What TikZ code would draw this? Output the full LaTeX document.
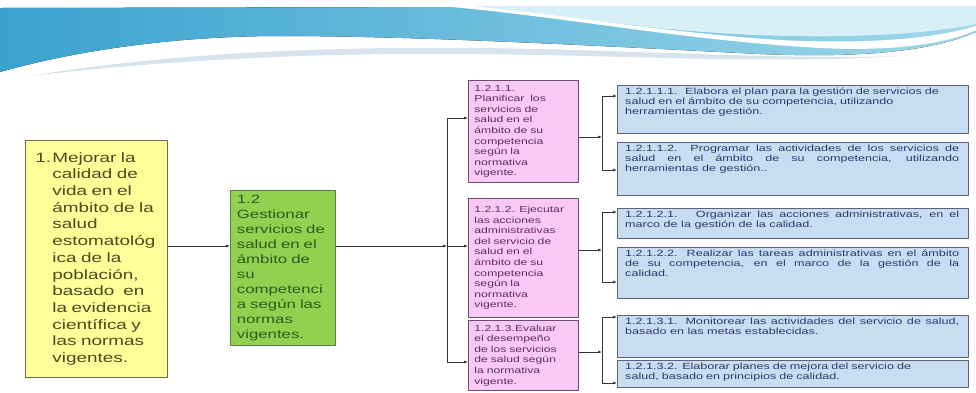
\documentclass[tikz,border=0pt]{standalone}
\usepackage{fontspec}
\setmainfont{Liberation Sans}[FakeStretch=1.4]
\usetikzlibrary{arrows.meta,calc}

\definecolor{yelfill}{HTML}{FFFF99}
\definecolor{yelline}{HTML}{6B6B4A}
\definecolor{yeltext}{HTML}{4A4A1E}
\definecolor{grnfill}{HTML}{92D050}
\definecolor{grnline}{HTML}{5A7A4A}
\definecolor{grntext}{HTML}{2E5A1E}
\definecolor{pnkfill}{HTML}{F9C9F5}
\definecolor{pnkline}{HTML}{6E4A6E}
\definecolor{pnktext}{HTML}{5A2A66}
\definecolor{blufill}{HTML}{C9DDF2}
\definecolor{bluline}{HTML}{5A6478}
\definecolor{blutext}{HTML}{2A3870}
\definecolor{bandL}{HTML}{3AA2CF}
\definecolor{bandR}{HTML}{9ED8EA}
\definecolor{wisp}{HTML}{D6E3EC}

\newcommand{\hang}{\hspace*{17pt}}

\begin{document}
\begin{tikzpicture}
    [x=1pt,y=-1pt,line join=bevel,
     ybox/.style={draw=yelline,fill=yelfill,line width=0.8pt,anchor=north west,
       text=yeltext,text width=122pt,inner xsep=10pt,align=left,
       font=\fontsize{13.5}{16.7}\selectfont},
     gbox/.style={draw=grnline,fill=grnfill,line width=0.8pt,anchor=north west,
       text=grntext,text width=92pt,inner xsep=6pt,align=left,
       font=\fontsize{12}{15}\selectfont},
     pbox/.style={draw=pnkline,fill=pnkfill,line width=0.8pt,anchor=north west,
       text=pnktext,text width=98pt,minimum width=110pt,inner xsep=6pt,align=left,
       font=\fontsize{8.7}{10.6}\selectfont},
     bbox/.style={draw=bluline,fill=blufill,line width=0.9pt,anchor=north west,
       minimum width=351pt},
     btext/.style={anchor=north west,text=blutext,text width=334pt,inner xsep=8pt,
       inner ysep=3pt,align=justify,font=\fontsize{9}{10}\selectfont},
     arr/.style={draw=black!80,line width=0.7pt,-{Latex[length=4pt,width=3pt]}}]

    \useasboundingbox (0,0) rectangle (976,392);

    % banner
    \fill[left color=bandL,right color=bandR] (0,8) -- (976,6) -- (976,32)
      .. controls (930,52) and (860,58) .. (760,54)
      .. controls (600,46) and (420,36) .. (280,36)
      .. controls (170,36) and (70,52) .. (0,72) -- cycle;
    \fill[white!60!bandR] (470,6) -- (976,6) -- (976,24)
      .. controls (900,40) and (760,40) .. (640,26)
      .. controls (570,18) and (510,10) .. (470,6) -- cycle;
    \fill[white] (440,6) .. controls (560,16) and (680,40) .. (820,48)
      .. controls (900,52) and (950,42) .. (976,30) -- (976,26)
      .. controls (930,40) and (860,44) .. (780,40)
      .. controls (660,32) and (560,14) .. (470,6) -- cycle;
    \fill[wisp] (30,76) .. controls (150,56) and (300,46) .. (480,48)
      .. controls (640,50) and (780,60) .. (900,56)
      .. controls (780,64) and (640,56) .. (480,54)
      .. controls (300,52) and (150,62) .. (30,76) -- cycle;

    % level 1 and 2
    \node[ybox,minimum width=142pt,minimum height=237pt] (obj) at (25,140)
      {\makebox[17pt][l]{1.}Mejorar la\\\hang calidad de\\\hang vida en el\\
       \hang ámbito de la\\\hang salud\\\hang estomatológ\\\hang ica de la\\
       \hang población,\\\hang basado~ en\\\hang la evidencia\\
       \hang científica y\\\hang las normas\\\hang vigentes.};
    \node[gbox,minimum width=105pt,minimum height=155pt] (g12) at (230,190)
      {1.2\\Gestionar\\servicios de\\salud en el\\ámbito de\\su\\competenci\\a según las\\
       normas\\vigentes.};

    % level 3
    \node[pbox,minimum height=102pt] (p1) at (468,80)
      {1.2.1.1.\\Planificar~ los\\servicios de\\salud en el\\ámbito de su\\competencia\\
       según la\\normativa\\vigente.};
    \node[pbox,minimum height=119pt] (p2) at (468,198)
      {1.2.1.2. Ejecutar\\las acciones\\administrativas\\del servicio de\\salud en el\\
       ámbito de su\\competencia\\según la\\normativa\\vigente.};
    \node[pbox,minimum height=70pt] (p3) at (468,320)
      {1.2.1.3.Evaluar\\el desempeño\\de los servicios\\de salud según\\la normativa\\vigente.};

    % level 4
    \node[bbox,minimum height=48pt] (b11) at (617,85) {};
    \node[bbox,minimum height=53pt] (b12) at (617,142) {};
    \node[bbox,minimum height=30pt] (b21) at (617,208) {};
    \node[bbox,minimum height=51pt] (b22) at (617,247) {};
    \node[bbox,minimum height=42pt] (b31) at (617,315) {};
    \node[bbox,minimum height=27pt] (b32) at (617,360) {};

    \node[btext,align=left] (t11) at (b11.north west)
      {1.2.1.1.1.~ Elabora el plan para la gestión de servicios de\\
       salud en el ámbito de su competencia, utilizando\\herramientas de gestión.};
    \node[btext] (t12) at (b12.north west)
      {1.2.1.1.2. Programar las actividades de los servicios de\linebreak
       salud en el ámbito de su competencia, utilizando\linebreak herramientas de gestión..};
    \node[btext] (t21) at (b21.north west)
      {1.2.1.2.1.~ Organizar las acciones administrativas, en el\linebreak
       marco de la gestión de la calidad.};
    \node[btext] (t22) at (b22.north west)
      {1.2.1.2.2. Realizar las tareas administrativas en el ámbito\linebreak
       de su competencia, en el marco de la gestión de la\linebreak calidad.};
    \node[btext] (t31) at (b31.north west)
      {1.2.1.3.1. Monitorear las actividades del servicio de salud,\linebreak
       basado en las metas establecidas.};
    \node[btext,align=left] (t32) at (b32.north west)
      {1.2.1.3.2. Elaborar planes de mejora del servicio de\\salud, basado en principios de calidad.};

    % connectors
    \coordinate (r0) at (0,246);
    \coordinate (busA) at (447,118);
    \coordinate (busB) at (447,246);
    \coordinate (busC) at (447,362);
    \coordinate (g1) at (602,137);
    \coordinate (k11) at (0,96);
    \coordinate (k12) at (0,170);
    \coordinate (g2) at (602,250);
    \coordinate (k21) at (0,212);
    \coordinate (k22) at (0,282);
    \coordinate (g3) at (602,352);
    \coordinate (k31) at (0,317);
    \coordinate (k32) at (0,383);

    \draw[arr] (obj.east |- r0) -- (r0 -| g12.west);
    \draw[arr] (g12.east |- busB) -- (busB);
    \draw[arr] (busB) |- (busA -| p1.west);
    \draw[arr] (busB) -- (busB -| p2.west);
    \draw[arr] (busB) |- (busC -| p3.west);

    \draw[arr] (p1.east |- g1) -- (g1);
    \draw[arr] (g1) |- (k11 -| b11.west);
    \draw[arr] (g1) |- (k12 -| b12.west);
    \draw[arr] (p2.east |- g2) -- (g2);
    \draw[arr] (g2) |- (k21 -| b21.west);
    \draw[arr] (g2) |- (k22 -| b22.west);
    \draw[arr] (p3.east |- g3) -- (g3);
    \draw[arr] (g3) |- (k31 -| b31.west);
    \draw[arr] (g3) |- (k32 -| b32.west);
  \end{tikzpicture}
\end{document}
